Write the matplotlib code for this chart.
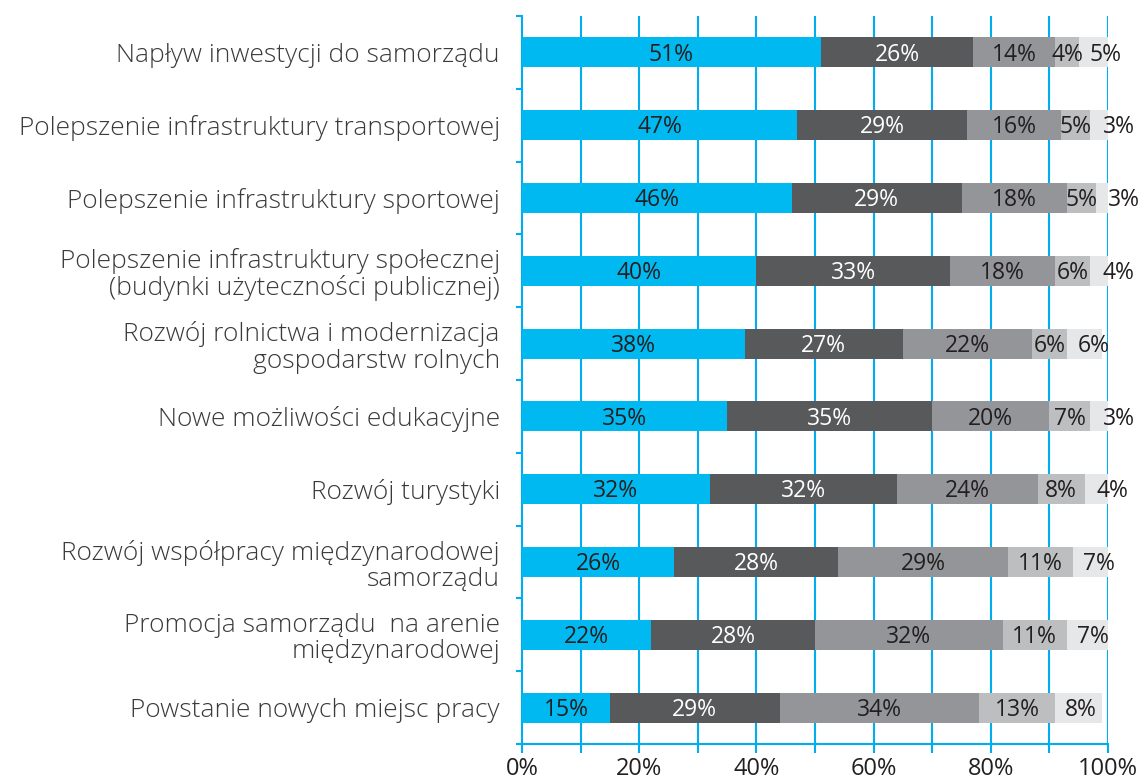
import matplotlib.pyplot as plt
import numpy as np

# Kategorie (od góry)
kategorie = [
    "Napływ inwestycji do samorządu",
    "Polepszenie infrastruktury transportowej",
    "Polepszenie infrastruktury sportowej",
    "Polepszenie infrastruktury społecznej\n(budynki użyteczności publicznej)",
    "Rozwój rolnictwa i modernizacja\ngospodarstw rolnych",
    "Nowe możliwości edukacyjne",
    "Rozwój turystyki",
    "Rozwój współpracy międzynarodowej\nsamorządu",
    "Promocja samorządu  na arenie\nmiędzynarodowej",
    "Powstanie nowych miejsc pracy",
]

# Wartości serii (%)
seria1 = [51, 47, 46, 40, 38, 35, 32, 26, 22, 15]
seria2 = [26, 29, 29, 33, 27, 35, 32, 28, 28, 29]
seria3 = [14, 16, 18, 18, 22, 20, 24, 29, 32, 34]
seria4 = [4, 5, 5, 6, 6, 7, 8, 11, 11, 13]
seria5 = [5, 3, 3, 4, 6, 3, 4, 7, 7, 8]

kolory = ["#00B9F1", "#58595B", "#939598", "#BCBEC0", "#E6E7E8"]
kolory_tekstu = ["#231F20", "white", "#231F20", "#231F20", "#231F20"]
niebieski = "#00AEEF"

plt.rcParams['font.family'] = ['Open Sans', 'DejaVu Sans']

fig = plt.figure(figsize=(11.47, 7.82), dpi=100)
ax = fig.add_axes([522 / 1147, 1 - 744 / 782, 586 / 1147, (744 - 16) / 782])

y = np.arange(len(kategorie))
lewo = np.zeros(len(kategorie))
for i, (seria, kolor, kt) in enumerate(zip([seria1, seria2, seria3, seria4, seria5],
                                           kolory, kolory_tekstu)):
    w = np.array(seria, dtype=float)
    ax.barh(y, w, left=lewo, height=0.41, color=kolor, zorder=3)
    for yi, l, v in zip(y, lewo, w):
        # male segmenty na koncu: etykiety przesuniete w prawo, jak w oryginale
        dx = max(0, 8.5 - v) * 0.6 if i == 4 else 0
        ax.text(l + v / 2 + dx, yi + 0.03, f"{int(v)}%", ha="center", va="center",
                fontsize=16.5, color=kt, zorder=4)
    lewo += w

# Siatka pionowa co 10%
for gx in range(10, 101, 10):
    ax.axvline(gx, color=niebieski, lw=1.5, zorder=1)

ax.set_xlim(0, 100)
ax.set_ylim(len(kategorie) - 0.5, -0.5)

ax.set_xticks(range(0, 101, 20))
ax.set_xticklabels([f"{v}%" for v in range(0, 101, 20)], fontsize=17, color="#231F20")
ax.set_xticks(range(0, 101, 10), minor=True)
ax.tick_params(axis="x", which="both", length=6.5, width=1.5, color=niebieski, pad=3)

ax.set_yticks(y)
ax.set_yticklabels(kategorie, fontsize=19, color="#3A3A3A", linespacing=1.08,
                   fontweight="light")
ax.set_yticks(np.arange(-0.5, len(kategorie), 1), minor=True)
ax.tick_params(axis="y", which="major", length=0, pad=16)
ax.tick_params(axis="y", which="minor", length=4.3, width=1.5, color=niebieski)

for s in ["top", "right"]:
    ax.spines[s].set_visible(False)
for s in ["left", "bottom"]:
    ax.spines[s].set_color(niebieski)
    ax.spines[s].set_linewidth(1.5)

fig.savefig("out.png", dpi=100)
